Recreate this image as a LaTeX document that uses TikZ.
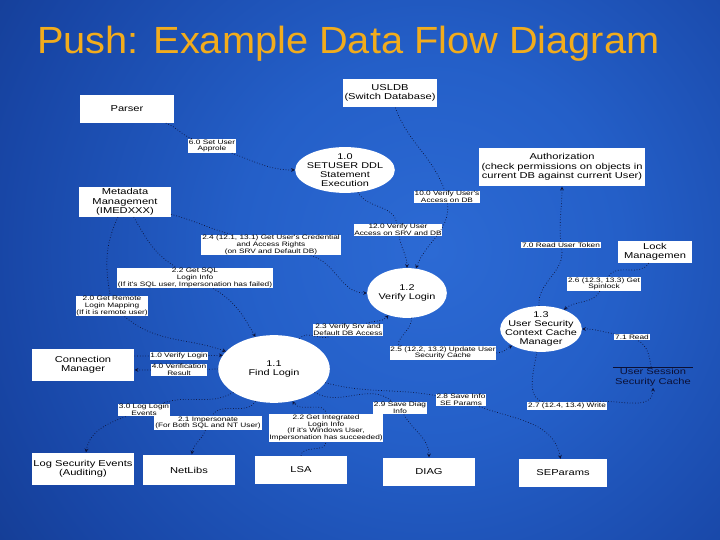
\documentclass[tikz,border=0pt]{standalone}
\usepackage{fontspec}
\setmainfont{Liberation Sans}
\newfontfamily\diagfont{Liberation Sans}[FakeStretch=1.3]
\newfontfamily\titlefont{Liberation Sans}[FakeStretch=1.05]
\usetikzlibrary{shapes.geometric}
\definecolor{TitleGold}{RGB}{242,172,28}
\definecolor{FlowInk}{RGB}{12,16,52}
\pgfdeclareradialshading{bgglow}{\pgfpoint{0bp}{0bp}}{%
  color(0bp)=(rgb,255:red,44;green,106;blue,212);
  color(8bp)=(rgb,255:red,36;green,95;blue,200);
  color(18bp)=(rgb,255:red,24;green,70;blue,166);
  color(28bp)=(rgb,255:red,16;green,48;blue,124);
  color(40bp)=(rgb,255:red,12;green,33;blue,92);
  color(72bp)=(rgb,255:red,8;green,22;blue,58)}

\begin{document}
\begin{tikzpicture}[x=1bp,y=1bp,>=stealth,
  box/.style={fill=white,align=center,inner sep=1pt,font=\diagfont\fontsize{8.6}{9.4}\selectfont},
  proc/.style={ellipse,fill=white,align=center,inner sep=-20pt,font=\diagfont\fontsize{8.4}{9.2}\selectfont},
  lbl/.style={fill=white,align=center,inner sep=.8pt,font=\diagfont\fontsize{6.4}{6.7}\selectfont},
  flow/.style={->,FlowInk,dotted,line width=.7pt}]
\useasboundingbox (0,0) rectangle (720,540);
\begin{scope}
\clip (0,0) rectangle (720,540);
\shade[shading=bgglow] (-170,-310) rectangle (1030,890);
\end{scope}

\node[anchor=base west,inner sep=0,text=TitleGold,font=\titlefont\fontsize{38}{44}\selectfont] (title) at (37,486) {Push: Example Data Flow Diagram};

\node[box,minimum width=95,minimum height=28] (parser) at (127,431) {Parser};
\node[box,minimum width=95,minimum height=29] (usldb) at (390,447) {USLDB\\(Switch Database)};
\node[box,minimum width=92,minimum height=30] (meta) at (125,338) {Metadata\\Management\\(IMEDXXX)};
\node[box,minimum width=167,minimum height=39] (auth) at (562,373) {Authorization\\(check permissions on objects in\\current DB against current User)};
\node[box,minimum width=75,minimum height=22] (lock) at (655,288) {Lock\\Managemen};
\node[box,minimum width=103,minimum height=32] (connmgr) at (83,175) {Connection\\Manager};
\node[box,minimum width=103,minimum height=33] (logsec) at (83,71) {Log Security Events\\(Auditing)};
\node[box,minimum width=92,minimum height=31] (netlibs) at (189,70) {NetLibs};
\node[box,minimum width=92,minimum height=28] (lsa) at (301,70) {LSA};
\node[box,minimum width=92,minimum height=29] (diag) at (429,68) {DIAG};
\node[box,minimum width=89,minimum height=28] (separams) at (563,67) {SEParams};

\node[proc,minimum width=100,minimum height=46] (exec) at (345,370) {1.0\\SETUSER DDL\\Statement\\Execution};
\node[proc,minimum width=80,minimum height=50] (verify) at (407,247) {1.2\\Verify Login};
\node[proc,minimum width=82,minimum height=46] (cache) at (541,211) {1.3\\User Security\\Context Cache\\Manager};
\node[proc,minimum width=112,minimum height=68] (find) at (274,171) {1.1\\Find Login};

\node[align=center,anchor=north,inner sep=1.5pt,minimum width=80,text=FlowInk,font=\diagfont\fontsize{8.6}{9.4}\selectfont] (store) at (653,173) {User Session\\Security Cache};
\draw[FlowInk,line width=.8pt] (store.north west) -- (store.north east);

\node[lbl] (l60) at (212,394) {6.0 Set User\\Approle};
\node[lbl] (l100) at (447,343) {10.0 Verify User's\\Access on DB};
\node[lbl] (l120) at (398,310) {12.0 Verify User\\Access on SRV and DB};
\node[lbl] (l24) at (271,295) {2.4 (12.1, 13.1) Get User's Credential\\and Access Rights\\(on SRV and Default DB)};
\node[lbl] (l22) at (195,262) {2.2 Get SQL\\Login Info\\(If it's SQL user, Impersonation has failed)};
\node[lbl] (l20) at (112,234) {2.0 Get Remote\\Login Mapping\\(If it is remote user)};
\node[lbl] (l70) at (561,295) {7.0 Read User Token};
\node[lbl] (l26) at (604,256) {2.6 (12.3, 13.3) Get\\Spinlock};
\node[lbl] (l71) at (632,203) {7.1 Read};
\node[lbl] (l23) at (348,210) {2.3 Verify Srv and\\Default DB Access};
\node[lbl] (l25) at (443,187) {2.5 (12.2, 13.2) Update User\\Security Cache};
\node[lbl] (l10) at (179,184) {1.0 Verify Login};
\node[lbl] (l40) at (179,170) {4.0 Verification\\Result};
\node[lbl] (l30) at (144,130) {3.0 Log Login\\Events};
\node[lbl] (l21) at (208,117) {2.1 Impersonate\\(For Both SQL and NT User)};
\node[lbl] (l22b) at (326,112) {2.2 Get Integrated\\Login Info\\(If it's Windows User,\\Impersonation has succeeded)};
\node[lbl] (l29) at (400,132) {2.9 Save Diag\\Info};
\node[lbl] (l28) at (461,140) {2.8 Save Info\\SE Params};
\node[lbl] (l27) at (567,134) {2.7 (12.4, 13.4) Write};

\draw[flow] (parser) to[out=-20,in=160] (l60) to[out=-20,in=180] (exec);
\draw[flow] (meta) to[out=-15,in=165] (l24) to[out=-15,in=180] (verify);
\draw[flow] (meta) to[out=-60,in=150] (l22) to[out=-30,in=120] (find);
\draw[flow] (meta) to[out=-115,in=100] (l20) to[out=-40,in=160] (find);
\draw[flow] (usldb) to[out=-70,in=110] (l100) to[out=-85,in=70] (verify);
\draw[flow] (exec) to[out=-60,in=100] (l120) to[out=-80,in=90] (verify);
\draw[flow] (cache) to[out=95,in=-80] (l70) to[out=95,in=-90] (auth);
\draw[flow] (lock) to[out=-120,in=60] (l26) to[out=-120,in=40] (cache);
\draw[flow] (store) to[out=100,in=-30] (l71) to[out=170,in=0] (cache);
\draw[flow] (cache) to[out=-100,in=170] (l27) to[out=10,in=-90] (store);
\draw[flow] (find) to[out=50,in=-160] (l23) to[out=20,in=-130] (verify);
\draw[flow] (verify) to[out=-80,in=170] (l25) to[out=0,in=-150] (cache);
\draw[flow] (connmgr.east |- l10) -- (l10) -- (find.165);
\draw[flow] (find.west) -- (l40) -- (connmgr.east |- l40);
\draw[flow] (find) to[out=-150,in=20] (l30) to[out=-160,in=80] (logsec);
\draw[flow] (find) to[out=-120,in=60] (l21) to[out=-110,in=80] (netlibs);
\draw[flow] (lsa) to[out=90,in=-90] (l22b) to[out=90,in=-60] (find);
\draw[flow] (find) to[out=-30,in=140] (l29) to[out=-60,in=90] (diag);
\draw[flow] (find) to[out=-15,in=170] (l28) to[out=-20,in=100] (separams);

\end{tikzpicture}
\end{document}
